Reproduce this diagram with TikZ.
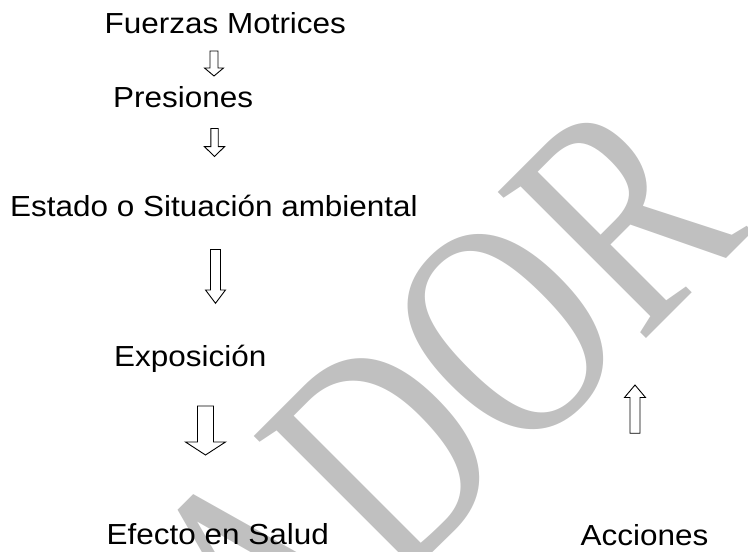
\documentclass[tikz,border=0pt]{standalone}
\usepackage{fontspec}
\setmainfont{Liberation Sans}
\newfontfamily\wmfont{Liberation Serif}
\definecolor{wmgray}{RGB}{192,192,192}
\newcommand\lbl[1]{\scalebox{1.085}[1]{#1}}
\newcommand\dnarrow[6]{% cx, top, headbase, tip, shaft half, head half
  \draw[blockarrow] (#1-#5,#2) -- (#1+#5,#2) -- (#1+#5,#3) -- (#1+#6,#3) -- (#1,#4) -- (#1-#6,#3) -- (#1-#5,#3) -- cycle;}
\begin{document}
\begin{tikzpicture}[x=1pt,y=1pt,
  lab/.style={anchor=base west,inner sep=0pt,font=\fontsize{29}{35}\selectfont},
  blockarrow/.style={draw=black,fill=white,line width=0.9pt,line join=miter},
  wm/.style={text=wmgray,inner sep=0pt,font=\wmfont\fontsize{239}{239}\selectfont}]
\useasboundingbox (0,0) rectangle (748,552);
\begin{scope}
\clip (0,0) rectangle (748,552);
\node[wm,anchor=base west,rotate=45] (wmark) at (-185.5,-618.8) {\scalebox{1}[1.33]{BORRADOR}};
\end{scope}
\node[lab] (fm) at (104.5,518.7) {\lbl{Fuerzas Motrices}};
\node[lab] (pr) at (113,444) {\lbl{Presiones}};
\node[lab] (es) at (10,335.3) {\lbl{Estado o Situación ambiental}};
\node[lab] (ex) at (114,185) {\lbl{Exposición}};
\node[lab] (ef) at (106.5,7) {\lbl{Efecto en Salud}};
\node[lab] (ac) at (580.5,6) {\lbl{Acciones}};
\dnarrow{214}{501}{484}{476}{4}{9.5}
\dnarrow{214.5}{423.5}{405.3}{395.5}{3.7}{10}
\dnarrow{215.5}{302.5}{262}{248.7}{5}{10}
\dnarrow{205.5}{146}{110}{97}{8}{20}
\dnarrow{635}{118.7}{154.5}{167}{5}{10.5}
\end{tikzpicture}
\end{document}
